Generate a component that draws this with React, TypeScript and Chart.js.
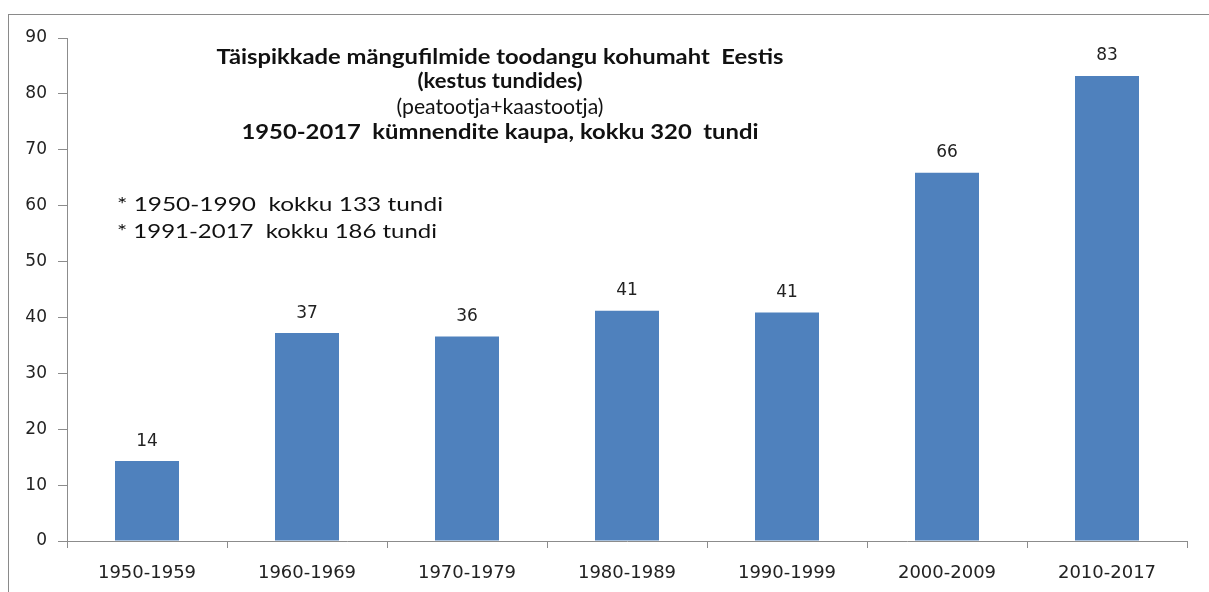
import React, { useEffect, useRef } from "react";
import { Chart, registerables } from "chart.js";

Chart.register(...registerables);

const categories = ["1950-1959", "1960-1969", "1970-1979", "1980-1989", "1990-1999", "2000-2009", "2010-2017"];
const hours = [14.3, 37.2, 36.6, 41.2, 40.9, 65.9, 83.2];
const valueLabels = ["14", "37", "36", "41", "41", "66", "83"];
const yMin = 0;
const yMax = 90;
const yStep = 10;
const titleLines = [
  { text: "Täispikkade mängufilmide toodangu kohumaht  Eestis", bold: true },
  { text: "(kestus tundides)", bold: true },
  { text: "(peatootja+kaastootja)", bold: false },
  { text: "1950-2017  kümnendite kaupa, kokku 320  tundi", bold: true },
];
const noteLines = ["* 1950-1990  kokku 133 tundi", "* 1991-2017  kokku 186 tundi"];

const BAR_COLOR = "#4F81BD";
const AXIS_COLOR = "#8c8c8c";
const TEXT_COLOR = "#222222";
const AXIS_FONT = "'DejaVu Sans', Verdana, sans-serif";
const TITLE_FONT = "Lato, 'Open Sans', sans-serif";

function drawStretched(ctx: any, text: string, x: number, y: number, targetWidth: number, align: "left" | "center") {
  const w = ctx.measureText(text).width;
  const sx = targetWidth / w;
  ctx.save();
  ctx.textAlign = "left";
  ctx.textBaseline = "middle";
  const startX = align === "center" ? x - targetWidth / 2 : x;
  ctx.translate(startX, y);
  ctx.scale(sx, 1);
  ctx.fillText(text, 0, 0);
  ctx.restore();
}

const overlayPlugin = {
  id: "overlayText",
  afterDatasetsDraw(chart: any) {
    const ctx = chart.ctx;
    ctx.save();
    // value labels
    const meta = chart.getDatasetMeta(0);
    ctx.fillStyle = TEXT_COLOR;
    ctx.font = `17px ${AXIS_FONT}`;
    ctx.textAlign = "center";
    ctx.textBaseline = "middle";
    meta.data.forEach((bar: any, i: number) => {
      ctx.fillText(valueLabels[i], bar.x, bar.y - 20);
    });
    // title
    const cx = 490;
    const ys = [42, 66, 92, 117];
    const widths = [567, 165, 207, 517];
    ctx.fillStyle = "#111111";
    titleLines.forEach((line, i) => {
      ctx.font = `${line.bold ? "bold " : ""}21px ${TITLE_FONT}`;
      drawStretched(ctx, line.text, cx, ys[i], widths[i], "center");
    });
    // notes
    ctx.font = `20px ${TITLE_FONT}`;
    const noteWidths = [326, 320];
    noteLines.forEach((t, i) => {
      drawStretched(ctx, t, 107, 190 + i * 27, noteWidths[i], "left");
    });
    ctx.restore();
  },
};

export default function App() {
  const ref = useRef<HTMLCanvasElement | null>(null);
  useEffect(() => {
    document.body.style.overflow = "hidden";
    const chart = new Chart(ref.current as HTMLCanvasElement, {
      type: "bar",
      data: {
        labels: categories,
        datasets: [
          {
            data: hours,
            backgroundColor: BAR_COLOR,
            borderWidth: 0,
            barPercentage: 0.4,
            categoryPercentage: 1,
          },
        ],
      },
      options: {
        animation: false,
        responsive: false,
        maintainAspectRatio: false,
        layout: { padding: { top: 23, right: 22, left: 0, bottom: 0 } },
        plugins: { legend: { display: false }, tooltip: { enabled: false }, title: { display: false } },
        scales: {
          x: {
            offset: true,
            grid: {
              display: true,
              drawOnChartArea: false,
              offset: true,
              tickLength: 7,
              color: AXIS_COLOR,
            },
            border: { display: true, color: AXIS_COLOR, width: 1 },
            ticks: {
              color: TEXT_COLOR,
              font: { family: AXIS_FONT, size: 18 },
              padding: 15,
              maxRotation: 0,
            },
            afterFit: (scale: any) => {
              scale.height = 51;
            },
          },
          y: {
            min: yMin,
            max: yMax,
            ticks: {
              stepSize: yStep,
              color: TEXT_COLOR,
              font: { family: AXIS_FONT, size: 17 },
              padding: 11,
            },
            grid: {
              display: true,
              drawOnChartArea: false,
              tickLength: 9,
              color: AXIS_COLOR,
            },
            border: { display: true, color: AXIS_COLOR, width: 1 },
            afterFit: (scale: any) => {
              scale.width = 57;
            },
          },
        },
      },
      plugins: [overlayPlugin],
    });
    return () => chart.destroy();
  }, []);

  return (
    <div
      style={{
        position: "absolute",
        left: 8,
        top: 14,
        width: 1201,
        height: 578,
        borderLeft: "1px solid #8a8a8a",
        borderTop: "1px solid #8a8a8a",
        background: "#ffffff",
      }}
    >
      <canvas
        ref={ref}
        width={1199}
        height={577}
        style={{ position: "absolute", left: 1, top: 0, width: 1199, height: 577 }}
      />
    </div>
  );
}
